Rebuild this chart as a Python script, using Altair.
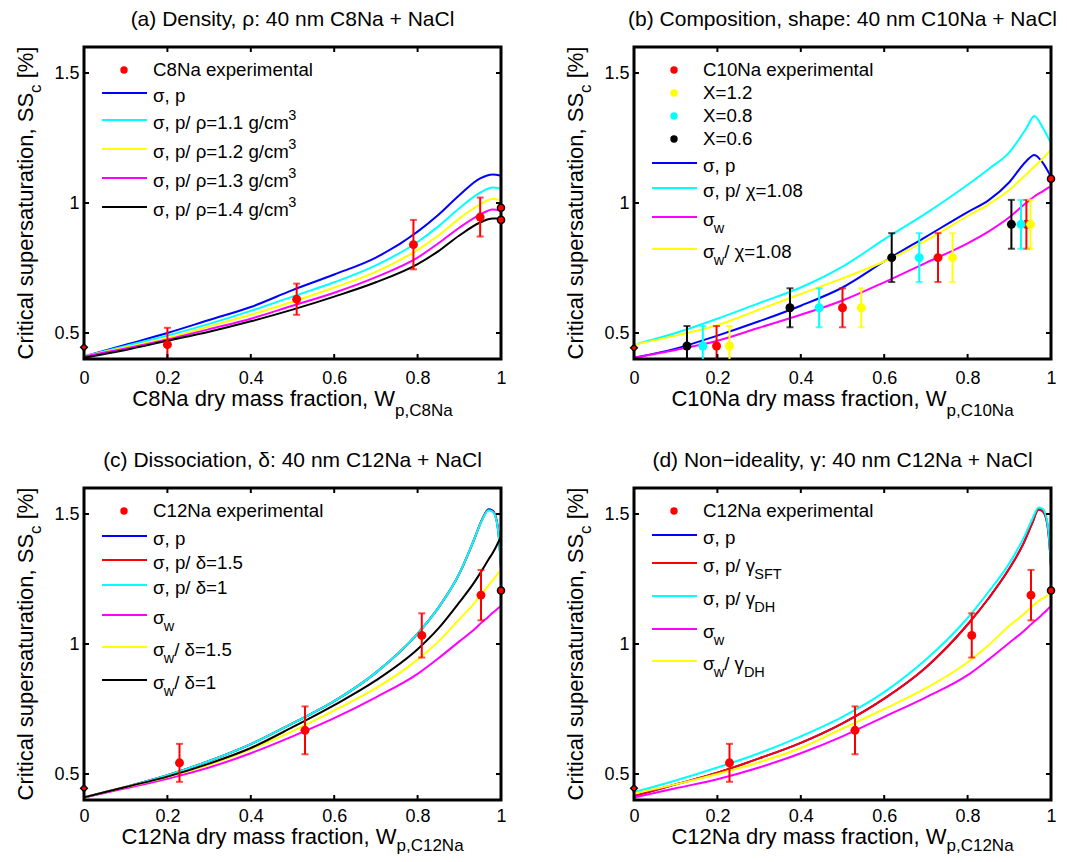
import altair as alt
import pandas as pd

FONT = "Liberation Sans"
W, H = 417, 312

# ---------------- data ----------------
# (a) Density
a_x = [0, 0.1, 0.2, 0.3, 0.4, 0.5, 0.6, 0.7, 0.8, 0.85, 0.9, 0.95, 0.98, 1.0]
a_sp = [0.41, 0.455, 0.50, 0.55, 0.60, 0.665, 0.725, 0.79, 0.89, 0.955, 1.03, 1.095, 1.11, 1.105]
a_r11 = [0.41, 0.45, 0.49, 0.535, 0.585, 0.64, 0.695, 0.76, 0.85, 0.91, 0.98, 1.04, 1.06, 1.055]
a_r12 = [0.41, 0.445, 0.48, 0.525, 0.57, 0.62, 0.675, 0.735, 0.82, 0.875, 0.94, 0.995, 1.015, 1.01]
a_r13 = [0.41, 0.44, 0.475, 0.515, 0.555, 0.605, 0.655, 0.715, 0.79, 0.845, 0.905, 0.955, 0.975, 0.97]
a_r14 = [0.405, 0.435, 0.47, 0.505, 0.545, 0.59, 0.64, 0.695, 0.765, 0.815, 0.875, 0.925, 0.94, 0.94]
a_exp_x = [0.2, 0.51, 0.79, 0.95]
a_exp_y = [0.455, 0.63, 0.84, 0.946]
a_exp_e = [0.065, 0.06, 0.095, 0.075]
a_end0 = [0.445]
a_end1 = [0.982, 0.935]

# (b) Composition, shape
b_x = [0, 0.1, 0.2, 0.3, 0.4, 0.5, 0.6, 0.7, 0.8, 0.85, 0.9, 0.94, 0.96, 0.98, 1.0]
b_sp = [0.405, 0.44, 0.49, 0.545, 0.605, 0.675, 0.775, 0.87, 0.965, 1.01, 1.08, 1.16, 1.185, 1.155, 1.10]
b_spchi = [0.455, 0.50, 0.555, 0.615, 0.675, 0.755, 0.86, 0.96, 1.07, 1.13, 1.195, 1.285, 1.335, 1.29, 1.23]
b_sw = [0.405, 0.435, 0.47, 0.52, 0.57, 0.625, 0.695, 0.77, 0.845, 0.89, 0.945, 1.0, 1.025, 1.045, 1.065]
b_swchi = [0.455, 0.49, 0.53, 0.59, 0.65, 0.71, 0.775, 0.855, 0.95, 0.995, 1.05, 1.11, 1.14, 1.17, 1.205]
b_exp_y = [0.45, 0.597, 0.79, 0.918]
b_exp_e = [0.077, 0.075, 0.094, 0.094]
b_red_x = [0.198, 0.50, 0.729, 0.941]
b_x12_x = [0.229, 0.545, 0.764, 0.951]
b_x08_x = [0.165, 0.444, 0.684, 0.928]
b_x06_x = [0.127, 0.374, 0.618, 0.905]
b_end0 = [0.443]
b_end1 = [1.093]

# (c) Dissociation and (d) Non-ideality
c_x = [0, 0.1, 0.2, 0.3, 0.4, 0.5, 0.6, 0.7, 0.8, 0.85, 0.9, 0.935, 0.955, 0.97, 0.98, 0.99, 0.996, 1.0]
c_sp = [0.41, 0.45, 0.495, 0.55, 0.615, 0.695, 0.78, 0.89, 1.04, 1.14, 1.27, 1.40, 1.48, 1.518, 1.513, 1.472, 1.392, 1.29]
c_spd15 = [0.41, 0.45, 0.495, 0.55, 0.615, 0.695, 0.78, 0.89, 1.04, 1.14, 1.27, 1.40, 1.48, 1.515, 1.51, 1.47, 1.39, 1.29]
c_spd1 = [0.41, 0.45, 0.495, 0.55, 0.615, 0.695, 0.78, 0.89, 1.04, 1.14, 1.27, 1.40, 1.478, 1.513, 1.508, 1.468, 1.388, 1.29]
c_sw = [0.41, 0.445, 0.482, 0.525, 0.58, 0.645, 0.715, 0.795, 0.885, 0.945, 1.01, 1.055, 1.085, 1.105, 1.12, 1.133, 1.141, 1.146]
c_swd15 = [0.41, 0.45, 0.488, 0.535, 0.595, 0.665, 0.745, 0.83, 0.94, 1.01, 1.095, 1.155, 1.195, 1.225, 1.245, 1.265, 1.278, 1.285]
c_swd1 = [0.41, 0.45, 0.49, 0.54, 0.60, 0.68, 0.765, 0.86, 0.98, 1.06, 1.16, 1.235, 1.285, 1.325, 1.35, 1.38, 1.40, 1.415]

d_sp = [0.415, 0.46, 0.505, 0.56, 0.62, 0.695, 0.79, 0.91, 1.075, 1.175, 1.29, 1.39, 1.465, 1.518, 1.512, 1.472, 1.392, 1.297]
d_sft = [0.415, 0.46, 0.505, 0.56, 0.62, 0.695, 0.79, 0.91, 1.075, 1.175, 1.29, 1.39, 1.465, 1.516, 1.51, 1.47, 1.39, 1.297]
d_dh = [0.43, 0.475, 0.525, 0.58, 0.645, 0.72, 0.815, 0.94, 1.10, 1.20, 1.31, 1.41, 1.48, 1.525, 1.52, 1.48, 1.40, 1.297]
d_sw = [0.41, 0.445, 0.48, 0.525, 0.58, 0.645, 0.72, 0.795, 0.88, 0.94, 1.005, 1.05, 1.08, 1.10, 1.115, 1.13, 1.14, 1.144]
d_swdh = [0.425, 0.46, 0.50, 0.545, 0.60, 0.675, 0.75, 0.83, 0.93, 0.995, 1.07, 1.115, 1.145, 1.165, 1.175, 1.185, 1.19, 1.195]

cd_exp_x = [0.229, 0.53, 0.81, 0.952]
cd_exp_y = [0.543, 0.668, 1.033, 1.188]
cd_exp_e = [0.073, 0.092, 0.085, 0.097]
cd_end0 = [0.445]
cd_end1 = [1.206]

x_ticks = [0, 0.2, 0.4, 0.6, 0.8, 1]
y_ticks = [0.5, 1, 1.5]

titles = ["(a) Density, ρ: 40 nm C8Na + NaCl",
          "(b) Composition, shape: 40 nm C10Na + NaCl",
          "(c) Dissociation, δ: 40 nm C12Na + NaCl",
          "(d) Non−ideality, γ: 40 nm C12Na + NaCl"]

BLUE, CYAN, YEL, MAG, BLK, RED = "#0000ff", "#00ffff", "#ffff00", "#ff00ff", "#000000", "#ff0000"

# ---------------- text helpers ----------------
AW = {' ': 278, '%': 889, '(': 333, ')': 333, '+': 584, ',': 278, '-': 333, '.': 278, '/': 278,
      ':': 278, '=': 584, '[': 278, ']': 278, '−': 584,
      'A': 667, 'C': 722, 'D': 722, 'F': 611, 'H': 722, 'N': 722, 'S': 667, 'T': 611, 'W': 944, 'X': 667,
      'a': 556, 'b': 556, 'c': 500, 'd': 556, 'e': 556, 'f': 278, 'g': 556, 'h': 556, 'i': 222,
      'k': 500, 'l': 222, 'm': 833, 'n': 556, 'o': 556, 'p': 556, 'r': 333, 's': 500, 't': 278,
      'u': 556, 'v': 500, 'w': 722, 'x': 500, 'y': 500,
      'σ': 571, 'ρ': 572, 'χ': 500, 'δ': 556, 'γ': 500}


def tw(s, fs):
    return sum(AW.get(ch, 556) for ch in s) / 1000.0 * fs


DUMMY = alt.Data(values=[{"k": 0}])

TITLE_FS = 21
AX_FS, AX_SFS = 22, 17
LEG_FS, LEG_SFS = 18.7, 14.5


def txt(s, x, y, fs, align="left", angle=None):
    kw = dict(text=s, align=align, baseline="middle", fontSize=fs, font=FONT, color="black")
    if angle is not None:
        kw["angle"] = angle
    return alt.Chart(DUMMY).mark_text(**kw).encode(x=alt.value(x), y=alt.value(y))


def split_lead(s):
    stripped = s.lstrip(" ")
    return s[:len(s) - len(stripped)], stripped


def segs_h(segs, x0, y0, fs, sfs, sub_dy, sup_dy):
    out = []
    x = x0
    for s, kind in segs:
        size = fs if kind == "n" else sfs
        dy = 0 if kind == "n" else (sub_dy if kind == "sub" else sup_dy)
        lead, body = split_lead(s)
        x += tw(lead, size)
        out.append(txt(body, x, y0 + dy, size))
        x += tw(body, size)
    return out


def segs_width(segs, fs, sfs):
    return sum(tw(s, fs if k == "n" else sfs) for s, k in segs)


def segs_v(segs, cx, cy, fs, sfs, sub_dx):
    out = []
    y = cy + segs_width(segs, fs, sfs) / 2
    for s, kind in segs:
        size = fs if kind == "n" else sfs
        dx = sub_dx if kind == "sub" else 0
        lead, body = split_lead(s)
        y -= tw(lead, size)
        out.append(txt(body, cx + dx, y, size, angle=270))
        y -= tw(body, size)
    return out


# ---------------- encodings ----------------
XS = alt.Scale(domain=[0, 1], nice=False, zero=False)
YS = alt.Scale(domain=[0.4, 1.6], nice=False, zero=False)
YA = alt.Axis(values=y_ticks, format=".1~f", title=None, grid=False, ticks=False, tickSize=0,
              domain=False, labelPadding=5, labelFontSize=18, labelFont=FONT, labelColor="black",
              labelFlush=False, labelOverlap=False)


def make_xaxis(pad):
    return alt.Axis(values=x_ticks, format=".1~f", title=None, grid=False, ticks=False, tickSize=0,
                    domain=False, labelPadding=pad, labelFontSize=18, labelFont=FONT, labelColor="black",
                    labelFlush=False, labelOverlap=False)


def Y(f="y"):
    return alt.Y(f + ":Q", scale=YS, axis=YA)


def panel(xgrid, curves, exps, end0, end1, legend_rows, legend_y, title, xt_segs, xt_dy, xt_sub_dy, lab_pad):
    XA = make_xaxis(lab_pad)

    def X(f="x"):
        return alt.X(f + ":Q", scale=XS, axis=XA)

    layers = []
    for ys, col in curves:
        df = pd.DataFrame({"x": xgrid, "y": ys})
        layers.append(alt.Chart(df).mark_line(color=col, strokeWidth=2, interpolate="monotone")
                      .encode(x=X(), y=Y()))
    # box frame (MATLAB "box on")
    layers.append(alt.Chart(DUMMY).mark_rect(fillOpacity=0, stroke="black", strokeWidth=3)
                  .encode(x=alt.value(0), x2=alt.value(W), y=alt.value(0), y2=alt.value(H)))
    for xs, ys, es, col in exps:
        df = pd.DataFrame({"x": xs, "y": ys,
                           "lo": [y - e for y, e in zip(ys, es)],
                           "hi": [y + e for y, e in zip(ys, es)]})
        base = alt.Chart(df)
        layers.append(base.mark_rule(color=col, strokeWidth=2, clip=True)
                      .encode(x=X(), y=Y("lo"), y2="hi:Q"))
        layers.append(base.mark_tick(color=col, orient="horizontal", size=7, thickness=2, clip=True)
                      .encode(x=X(), y=Y("lo")))
        layers.append(base.mark_tick(color=col, orient="horizontal", size=7, thickness=2, clip=True)
                      .encode(x=X(), y=Y("hi")))
        layers.append(base.mark_point(shape="circle", filled=True, size=80, color=col, opacity=1)
                      .encode(x=X(), y=Y()))
    df0 = pd.DataFrame({"x": [0] * len(end0), "y": end0})
    df1 = pd.DataFrame({"x": [1] * len(end1), "y": end1})
    layers.append(alt.Chart(df0).mark_point(shape="diamond", filled=True, color=RED, stroke="black",
                                            strokeWidth=1.5, size=45, opacity=1)
                  .encode(x=X(), y=Y()))
    layers.append(alt.Chart(df1).mark_point(shape="circle", filled=True, color=RED, stroke="black",
                                            strokeWidth=1.5, size=50, opacity=1)
                  .encode(x=X(), y=Y()))
    # inward ticks on all four sides
    tx = pd.DataFrame({"x": x_ticks[1:-1]})
    ty = pd.DataFrame({"y": y_ticks})
    layers.append(alt.Chart(tx).mark_rule(color="black", strokeWidth=2)
                  .encode(x=X(), y=alt.value(H), y2=alt.value(H - 5)))
    layers.append(alt.Chart(tx).mark_rule(color="black", strokeWidth=2)
                  .encode(x=X(), y=alt.value(0), y2=alt.value(5)))
    layers.append(alt.Chart(ty).mark_rule(color="black", strokeWidth=2)
                  .encode(y=Y(), x=alt.value(0), x2=alt.value(5)))
    layers.append(alt.Chart(ty).mark_rule(color="black", strokeWidth=2)
                  .encode(y=Y(), x=alt.value(W), x2=alt.value(W - 5)))
    # title
    layers.append(txt(title, W / 2, -27.5, TITLE_FS, align="center"))
    # x-axis title with subscript
    xw = segs_width(xt_segs, AX_FS, AX_SFS)
    layers += segs_h(xt_segs, W / 2 - xw / 2, H + xt_dy, AX_FS, AX_SFS, xt_sub_dy, -8)
    # y-axis title with subscript
    yt = [("Critical supersaturation, SS", "n"), ("c", "sub"), (" [%]", "n")]
    layers += segs_v(yt, -58, H / 2, AX_FS, AX_SFS, 10)
    # legend
    for (kind, col, segs), ly in zip(legend_rows, legend_y):
        if kind == "pt":
            layers.append(alt.Chart(DUMMY).mark_point(shape="circle", filled=True, size=55, color=col, opacity=1)
                          .encode(x=alt.value(40), y=alt.value(ly)))
            layers += segs_h(segs, 69, ly, LEG_FS, LEG_SFS, 9, -7)
        else:
            layers.append(alt.Chart(DUMMY).mark_rule(color=col, strokeWidth=2)
                          .encode(x=alt.value(18), x2=alt.value(63), y=alt.value(ly)))
            layers += segs_h(segs, 69, ly + 3, LEG_FS, LEG_SFS, 9, -7)
    return alt.layer(*layers).properties(width=W, height=H)


leg_a = [("pt", RED, [("C8Na experimental", "n")]),
         ("ln", BLUE, [("σ, p", "n")]),
         ("ln", CYAN, [("σ, p/ ρ=1.1 g/cm", "n"), ("3", "sup")]),
         ("ln", YEL, [("σ, p/ ρ=1.2 g/cm", "n"), ("3", "sup")]),
         ("ln", MAG, [("σ, p/ ρ=1.3 g/cm", "n"), ("3", "sup")]),
         ("ln", BLK, [("σ, p/ ρ=1.4 g/cm", "n"), ("3", "sup")])]
leg_a_y = [23, 46, 73, 102, 131, 160]

leg_b = [("pt", RED, [("C10Na experimental", "n")]),
         ("pt", YEL, [("X=1.2", "n")]),
         ("pt", CYAN, [("X=0.8", "n")]),
         ("pt", BLK, [("X=0.6", "n")]),
         ("ln", BLUE, [("σ, p", "n")]),
         ("ln", CYAN, [("σ, p/ χ=1.08", "n")]),
         ("ln", MAG, [("σ", "n"), ("w", "sub")]),
         ("ln", YEL, [("σ", "n"), ("w", "sub"), ("/ χ=1.08", "n")])]
leg_b_y = [23, 46, 69, 92, 116, 141, 170, 202]

leg_c = [("pt", RED, [("C12Na experimental", "n")]),
         ("ln", BLUE, [("σ, p", "n")]),
         ("ln", RED, [("σ, p/ δ=1.5", "n")]),
         ("ln", CYAN, [("σ, p/ δ=1", "n")]),
         ("ln", MAG, [("σ", "n"), ("w", "sub")]),
         ("ln", YEL, [("σ", "n"), ("w", "sub"), ("/ δ=1.5", "n")]),
         ("ln", BLK, [("σ", "n"), ("w", "sub"), ("/ δ=1", "n")])]
leg_c_y = [23, 48, 72, 97, 127, 159, 192]

leg_d = [("pt", RED, [("C12Na experimental", "n")]),
         ("ln", BLUE, [("σ, p", "n")]),
         ("ln", RED, [("σ, p/ γ", "n"), ("SFT", "sub")]),
         ("ln", CYAN, [("σ, p/ γ", "n"), ("DH", "sub")]),
         ("ln", MAG, [("σ", "n"), ("w", "sub")]),
         ("ln", YEL, [("σ", "n"), ("w", "sub"), ("/ γ", "n"), ("DH", "sub")])]
leg_d_y = [23, 47, 75, 108, 141, 173]

pa = panel(a_x,
           [(a_sp, BLUE), (a_r11, CYAN), (a_r12, YEL), (a_r13, MAG), (a_r14, BLK)],
           [(a_exp_x, a_exp_y, a_exp_e, RED)],
           a_end0, a_end1, leg_a, leg_a_y, titles[0],
           [("C8Na dry mass fraction, W", "n"), ("p,C8Na", "sub")], 40, 12, 10)

pb = panel(b_x,
           [(b_sp, BLUE), (b_spchi, CYAN), (b_sw, MAG), (b_swchi, YEL)],
           [(b_red_x, b_exp_y, b_exp_e, RED), (b_x12_x, b_exp_y, b_exp_e, YEL),
            (b_x08_x, b_exp_y, b_exp_e, CYAN), (b_x06_x, b_exp_y, b_exp_e, BLK)],
           b_end0, b_end1, leg_b, leg_b_y, titles[1],
           [("C10Na dry mass fraction, W", "n"), ("p,C10Na", "sub")], 40, 12, 10)

pc = panel(c_x,
           [(c_sp, BLUE), (c_spd15, RED), (c_spd1, CYAN), (c_sw, MAG), (c_swd15, YEL), (c_swd1, BLK)],
           [(cd_exp_x, cd_exp_y, cd_exp_e, RED)],
           cd_end0, cd_end1, leg_c, leg_c_y, titles[2],
           [("C12Na dry mass fraction, W", "n"), ("p,C12Na", "sub")], 36.5, 9.5, 7)

pd_ = panel(c_x,
            [(d_sp, BLUE), (d_sft, RED), (d_dh, CYAN), (d_sw, MAG), (d_swdh, YEL)],
            [(cd_exp_x, cd_exp_y, cd_exp_e, RED)],
            cd_end0, cd_end1, leg_d, leg_d_y, titles[3],
            [("C12Na dry mass fraction, W", "n"), ("p,C12Na", "sub")], 36.5, 9.5, 7)

chart = alt.concat(pa, pb, pc, pd_, columns=2,
                   spacing={"row": 129, "column": 133}, bounds="flush").properties(
    padding={"left": 6, "top": 0, "right": 0, "bottom": 0}
).configure(font=FONT, view=alt.ViewConfig(strokeWidth=0))

chart.save("out.html", embed_options={"renderer": "svg", "actions": False})
